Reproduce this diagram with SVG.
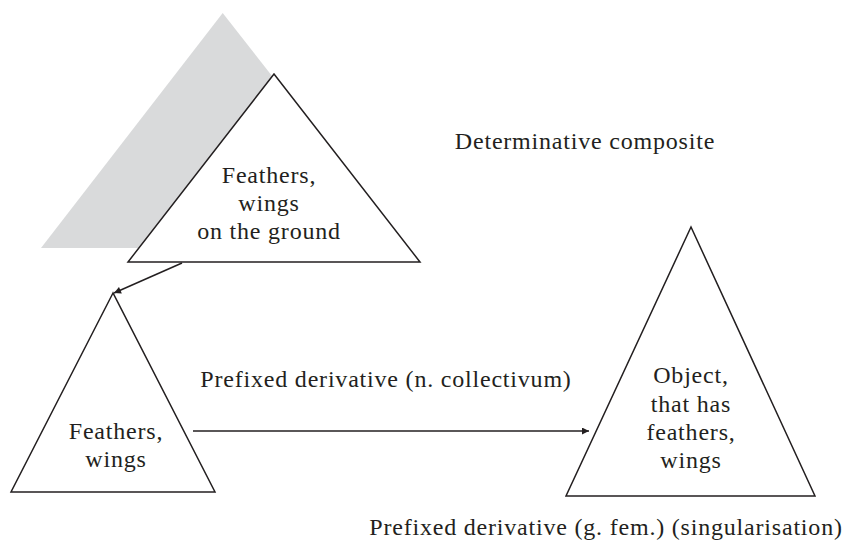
<svg xmlns="http://www.w3.org/2000/svg" width="846" height="551" viewBox="0 0 846 551">
<defs>
<marker id="ah" viewBox="0 0 10 10" refX="10" refY="5" markerWidth="9" markerHeight="7" markerUnits="userSpaceOnUse" orient="auto">
<path d="M0,0 L10,5 L0,10 z" fill="#231f20"/>
</marker>
<style>
.tri{fill:#fff;stroke:#231f20;stroke-width:1.5;stroke-linejoin:miter}
.t{font-size:24px;letter-spacing:0.8px;fill:#231f20;text-anchor:middle}
.c{stroke:#231f20;stroke-width:1.5;fill:none}
</style>
</defs>
<rect width="846" height="551" fill="#fff"/>
<polygon points="222.7,13 41,248 407,248" fill="#d9dadb"/>
<g font-family="'Liberation Serif', 'DejaVu Serif', 'Times New Roman', serif">
<g id="node-ground">
<polygon class="tri" points="274,74 128,262 420,262"/>
<text class="t" x="269" y="183">Feathers,</text>
<text class="t" x="269" y="211">wings</text>
<text class="t" x="269" y="239">on the ground</text>
</g>
<g id="node-feathers">
<polygon class="tri" points="113,293 11,492 215,492"/>
<text class="t" x="116" y="439">Feathers,</text>
<text class="t" x="116" y="467">wings</text>
</g>
<g id="node-object">
<polygon class="tri" points="691,227 566,496 815,496"/>
<text class="t" x="691" y="383">Object,</text>
<text class="t" x="691" y="411.5">that has</text>
<text class="t" x="691" y="440">feathers,</text>
<text class="t" x="691" y="468">wings</text>
</g>
<g id="labels">
<text class="t" x="585" y="149">Determinative composite</text>
<text class="t" x="386" y="387">Prefixed derivative (n. collectivum)</text>
<text class="t" x="606" y="535">Prefixed derivative (g. fem.) (singularisation)</text>
</g>
</g>
<g id="connectors">
<line class="c" x1="182" y1="263" x2="114" y2="293" marker-end="url(#ah)"/>
<line class="c" x1="193" y1="431" x2="589" y2="431" marker-end="url(#ah)"/>
</g>
</svg>
